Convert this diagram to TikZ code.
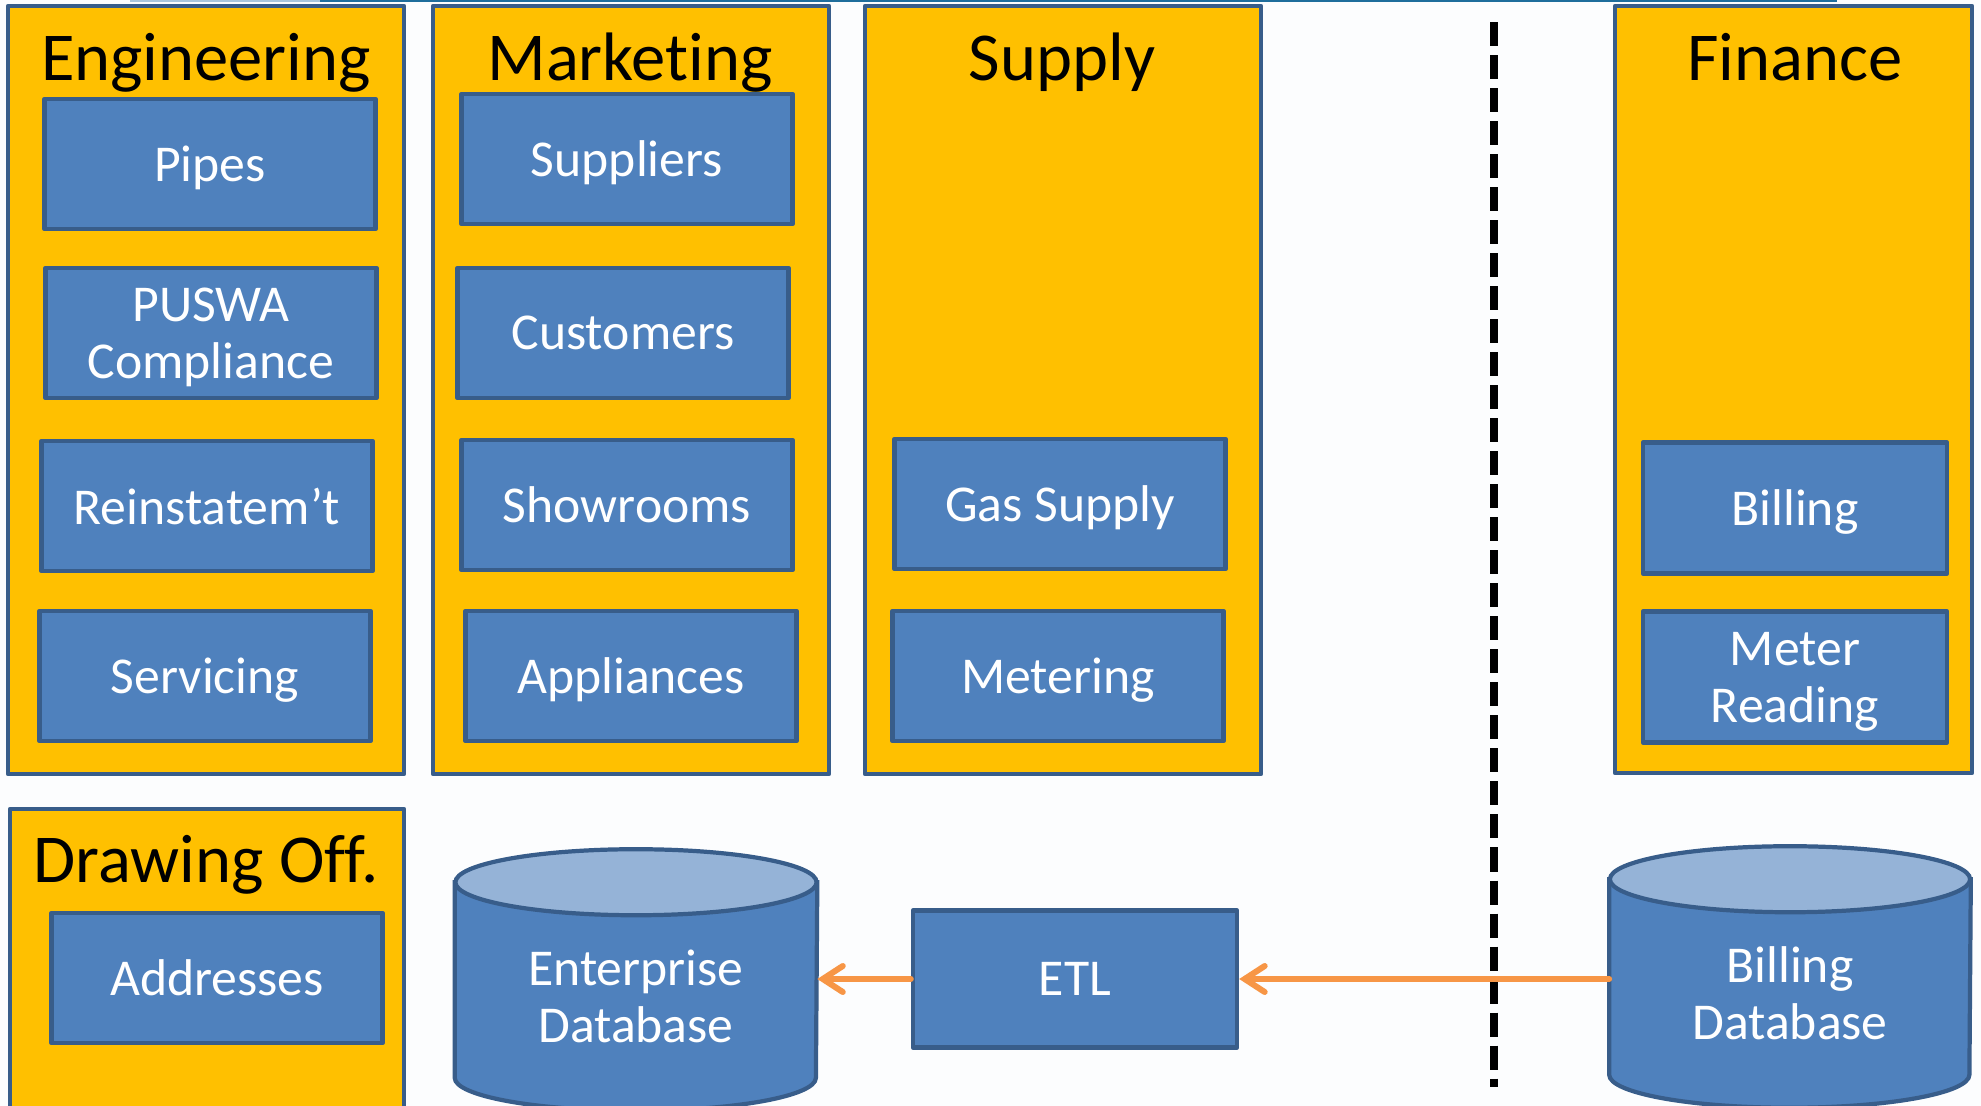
\documentclass[tikz,border=0pt]{standalone}
\usepackage{fontspec}
\setmainfont{Carlito}[Ligatures=NoCommon]
\usetikzlibrary{arrows.meta, backgrounds}
\definecolor{deptgold}{HTML}{FFC000}
\definecolor{unitblue}{HTML}{4F81BD}
\definecolor{unitedge}{HTML}{385D8A}
\definecolor{dbtop}{HTML}{95B3D7}
\definecolor{flowline}{HTML}{F79646}
\definecolor{pagebg}{HTML}{FCFDFE}
\definecolor{topline}{HTML}{1F6E9C}
\definecolor{toplight}{HTML}{A9C6DC}

\tikzset{
	dept/.style={draw=unitedge, fill=deptgold, line width=1.2pt},
	depttitle/.style={font=\fontsize{19.5}{21}\selectfont, text=black, inner sep=0pt, text depth=0pt},
	unit/.style={draw=unitedge, fill=unitblue, line width=1.2pt, text=white, align=center,
		font=\fontsize{14.7}{16.2}\selectfont, minimum width=3.31cm, minimum height=1.30cm,
		inner sep=0pt, text depth=0pt},
	finunit/.style={unit, minimum width=3.04cm, minimum height=1.31cm},
	dbbody/.style={text=white, align=center, font=\fontsize{14.7}{16.2}\selectfont,
		minimum width=3.61cm, minimum height=2.27cm, inner sep=0pt},
	dbline/.style={draw=unitedge, line width=1.2pt},
	flow/.style={draw=flowline, line width=1.7pt, line cap=round,
		-{Straight Barb[length=2mm, width=2.6mm, line cap=round]}},
	divider/.style={black, line width=2pt, dash pattern=on 0.24cm off 0.09cm},
}

\begin{document}
\begin{tikzpicture}[x=0.01cm, y=-0.01cm, line join=round]
		
		\useasboundingbox (0,0) rectangle (1981,1106);
		\begin{scope}[on background layer]
			\fill[pagebg] (0,0) rectangle (1981,1106);
		\end{scope}
		% thin rule along the top edge
		\draw[toplight, line width=0.6pt] (130,1) -- (320,1);
		\draw[topline, line width=0.6pt] (320,1) -- (1837,1);
		
		%========================
		% Departments
		%========================
		% Engineering
		\draw[dept] (8,6) rectangle (404,774);
		\node[depttitle] (engtitle) at (206,57) {Engineering};
		\node[unit] (pipes) at (210,164) {Pipes};
		\node[unit] (puswa) at (211,333) {PUSWA\\Compliance};
		\node[unit] (reinst) at (207,506) {Reinstatem’t};
		\node[unit] (servicing) at (205,676) {Servicing};
		
		% Marketing
		\draw[dept] (433,6) rectangle (829,774);
		\node[depttitle] (mkttitle) at (630,57) {Marketing};
		\node[unit] (suppliers) at (627,159) {Suppliers};
		\node[unit] (customers) at (623,333) {Customers};
		\node[unit] (showrooms) at (627,505) {Showrooms};
		\node[unit] (appliances) at (631,676) {Appliances};
		
		% Supply
		\draw[dept] (865,6) rectangle (1261,774);
		\node[depttitle] (suptitle) at (1062,57) {Supply};
		\node[unit] (gassupply) at (1060,504) {Gas Supply};
		\node[unit] (metering) at (1058,676) {Metering};
		
		% Finance
		\draw[dept] (1615,6) rectangle (1972,773);
		\node[depttitle] (fintitle) at (1795,57) {Finance};
		\node[finunit] (billing) at (1795,508) {Billing};
		\node[finunit] (meterread) at (1795,677) {Meter\\Reading};
		
		% Drawing office (runs off the bottom)
		\draw[dept] (10,809) rectangle (404,1130);
		\node[depttitle] (dotitle) at (206,859) {Drawing Off.};
		\node[unit] (addresses) at (217,978) {Addresses};
		
		%========================
		% Data flow
		%========================
		\node[dbbody] (entdb) at (636,996.5) {Enterprise\\Database};
		\node[dbbody, minimum width=3.60cm] (billdb) at (1790,993.5) {Billing\\Database};
		\node[unit, minimum width=3.24cm, minimum height=1.37cm] (etl) at (1075,979) {ETL};
		
		% cylinders behind their labels
		\begin{scope}[on background layer]
			\foreach \db/\rx in {entdb/1.805cm, billdb/1.80cm} {
				\draw[dbline, fill=unitblue] (\db.north west)
				-- ([yshift=0.33cm]\db.south west)
				arc[start angle=180, end angle=360, x radius=\rx, y radius=0.33cm]
				-- (\db.north east) -- cycle;
				\draw[dbline, fill=dbtop] (\db.north) ellipse [x radius=\rx, y radius=0.33cm];
			}
		\end{scope}
		
		% divider between the systems
		\draw[divider] (1494,22) -- (1494,1087);
		
		% ETL arrows
		\draw[flow] (billdb.west |- etl.east) -- (etl.east);
		\draw[flow] (etl.west) -- (etl.west -| entdb.east);
		
	\end{tikzpicture}
\end{document}
